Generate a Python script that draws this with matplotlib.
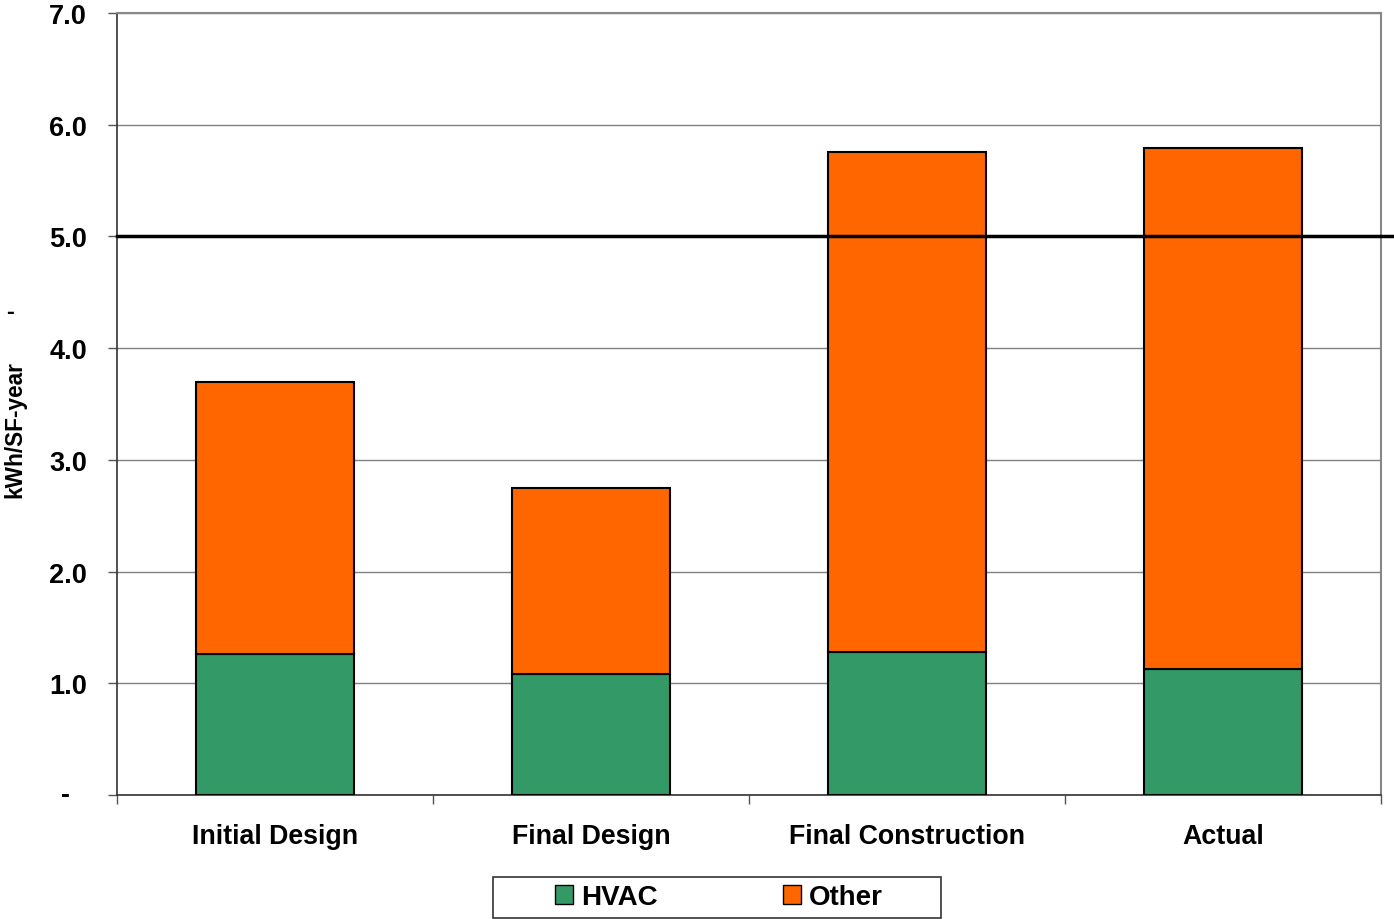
import matplotlib.pyplot as plt
from matplotlib.patches import Patch, Rectangle

categories = ['Initial Design', 'Final Design', 'Final Construction', 'Actual']
hvac = [1.26, 1.08, 1.28, 1.13]
other = [2.44, 1.67, 4.48, 4.66]
target = 5.0

plt.rcParams['font.family'] = ['Liberation Sans', 'DejaVu Sans']
plt.rcParams['font.weight'] = 'bold'

fig = plt.figure(figsize=(13.94, 9.2), dpi=100)
ax = fig.add_axes([117/1394, 1 - 796/920, (1381-117)/1394, (796-14)/920])

x = list(range(len(categories)))
ax.bar(x, hvac, width=0.5, color='#339966', edgecolor='black', linewidth=1.5, zorder=3)
ax.bar(x, other, width=0.5, bottom=hvac, color='#FF6600', edgecolor='black', linewidth=1.5, zorder=3)

ax.set_xlim(-0.5, 3.5)
ax.set_ylim(0, 7)
ax.set_yticks([0, 1, 2, 3, 4, 5, 6, 7])
# zero label drawn separately, Excel-style dash sits further left
ax.set_yticklabels(['', '1.0', '2.0', '3.0', '4.0', '5.0', '6.0', '7.0'], fontsize=19.5, fontweight='bold')
ax.annotate('-', xy=(0, 0), xycoords='axes fraction', xytext=(-47, 0), textcoords='offset pixels',
            ha='right', va='center', fontsize=19.5, fontweight='bold')
ax.grid(axis='y', color='#808080', linewidth=1, zorder=0)

ax.set_xticks(x)
ax.set_xticklabels(categories, fontsize=19.3, fontweight='bold')
ax.tick_params(axis='x', length=0, pad=20.5)
ax.set_xticks([-0.5, 0.5, 1.5, 2.5, 3.5], minor=True)
ax.tick_params(axis='x', which='minor', length=6.5, width=1, color='#555555')
ax.tick_params(axis='y', length=6.5, width=1, color='#555555', pad=15)

for s in ['left', 'bottom']:
    ax.spines[s].set_color('#333333')
    ax.spines[s].set_linewidth(1.2)
for s in ['top', 'right']:
    ax.spines[s].set_color('#888888')
    ax.spines[s].set_linewidth(1.5)

# target line runs past the plot's right edge
ax.plot([-0.5, 3.54], [target, target], color='black', linewidth=2.5, zorder=4, clip_on=False)

fig.text(15/1394, 1 - 430/920, 'kWh/SF-year', rotation=90, ha='center', va='center',
         fontsize=16.3, fontweight='bold')
fig.text(10/1394, 1 - 313/920, '-', ha='center', va='center', fontsize=17, fontweight='bold')

handles = [Patch(facecolor='#339966', edgecolor='black', label='HVAC'),
           Patch(facecolor='#FF6600', edgecolor='black', label='Other')]
leg = fig.legend(handles=handles, loc='center', bbox_to_anchor=(719/1394, 1 - 898/920), ncol=2,
                 frameon=False, handlelength=0.65, handleheight=0.65, handletextpad=0.3,
                 columnspacing=4.5, prop={'weight': 'bold', 'size': 20})
fig.patches.append(Rectangle((493/1394, 1 - 919/920), 448/1394, 41/920, transform=fig.transFigure,
                             facecolor='none', edgecolor='#333333', linewidth=1.2))

fig.savefig('out.png', dpi=100)
